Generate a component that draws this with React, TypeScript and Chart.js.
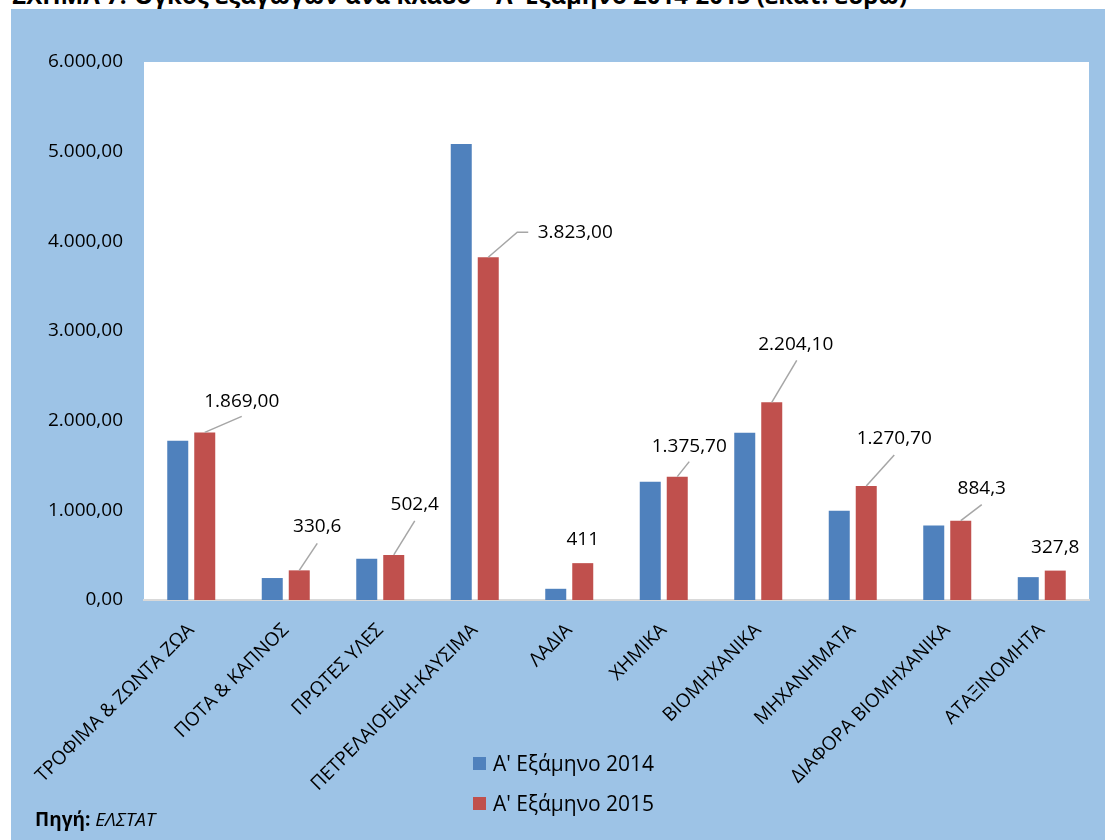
import React, { useEffect, useRef } from "react";
import { Chart, registerables } from "chart.js";

Chart.register(...registerables);

const CATEGORIES = [
  "ΤΡΟΦΙΜΑ & ΖΩΝΤΑ ΖΩΑ",
  "ΠΟΤΑ & ΚΑΠΝΟΣ",
  "ΠΡΩΤΕΣ ΥΛΕΣ",
  "ΠΕΤΡΕΛΑΙΟΕΙΔΗ-ΚΑΥΣΙΜΑ",
  "ΛΑΔΙΑ",
  "ΧΗΜΙΚΑ",
  "ΒΙΟΜΗΧΑΝΙΚΑ",
  "ΜΗΧΑΝΗΜΑΤΑ",
  "ΔΙΑΦΟΡΑ ΒΙΟΜΗΧΑΝΙΚΑ",
  "ΑΤΑΞΙΝΟΜΗΤΑ",
];
const SERIES_NAMES = ["Α' Εξάμηνο 2014", "Α' Εξάμηνο 2015"];
const H1_2014 = [1775, 245, 460, 5085, 125, 1320, 1865, 995, 830, 255];
const H1_2015 = [1869, 330.6, 502.4, 3823, 411, 1375.7, 2204.1, 1270.7, 884.3, 327.8];
const LABELS_2015 = ["1.869,00", "330,6", "502,4", "3.823,00", "411", "1.375,70", "2.204,10", "1.270,70", "884,3", "327,8"];
const Y_MIN = 0;
const Y_MAX = 6000;
const Y_STEP = 1000;

const TITLE = "ΣΧΗΜΑ 7: Όγκος εξαγωγών ανά κλάδο – Α' Εξάμηνο 2014-2015 (εκατ. ευρώ)";
const COLORS = ["#4F81BD", "#C0504D"];
const BG = "#9DC3E6";
const FONT = "'Open Sans', 'DejaVu Sans', sans-serif";

// label placement relative to the top-centre of each 2015 bar (layout only)
const LABEL_LAYOUT: { dx: number; dy: number; line: number[][] | null }[] = [
  { dx: 37, dy: -31, line: [[0, 0], [37, -16]] },
  { dx: 18, dy: -44, line: [[0, 0], [18, -27]] },
  { dx: 21, dy: -50, line: [[0, 0], [21, -34]] },
  { dx: 87, dy: -25, line: [[0, 0], [29, -25], [40, -25]] },
  { dx: 0, dy: -24, line: null },
  { dx: 12, dy: -30, line: [[0, 0], [12, -15]] },
  { dx: 24, dy: -58, line: [[0, 0], [25, -42]] },
  { dx: 28, dy: -47, line: [[0, 0], [28, -31]] },
  { dx: 21, dy: -32, line: [[0, 0], [21, -16]] },
  { dx: 0, dy: -23, line: null },
];

function formatEl(v: number): string {
  const fixed = v.toFixed(2);
  const [intPart, dec] = fixed.split(".");
  const withDots = intPart.replace(/\B(?=(\d{3})+(?!\d))/g, ".");
  return withDots + "," + dec;
}

const bgPlugin = {
  id: "bgPlugin",
  beforeDraw(chart: any) {
    const { ctx, chartArea } = chart;
    ctx.save();
    ctx.fillStyle = BG;
    ctx.fillRect(0, 0, chart.width, chart.height);
    ctx.fillStyle = "#FFFFFF";
    ctx.fillRect(chartArea.left, chartArea.top, chartArea.right - chartArea.left, chartArea.bottom - chartArea.top);
    ctx.restore();
  },
};

const labelPlugin = {
  id: "labelPlugin",
  afterDatasetsDraw(chart: any) {
    const { ctx } = chart;
    const meta = chart.getDatasetMeta(1);
    ctx.save();
    meta.data.forEach((bar: any, i: number) => {
      const lay = LABEL_LAYOUT[i];
      const x0 = bar.x;
      const y0 = bar.y;
      if (lay.line) {
        ctx.beginPath();
        ctx.strokeStyle = "#A6A6A6";
        ctx.lineWidth = 1.5;
        lay.line.forEach((p, k) => {
          if (k === 0) ctx.moveTo(x0 + p[0], y0 + p[1]);
          else ctx.lineTo(x0 + p[0], y0 + p[1]);
        });
        ctx.stroke();
      }
      ctx.fillStyle = "#000000";
      ctx.font = `19px ${FONT}`;
      ctx.textAlign = "center";
      ctx.textBaseline = "middle";
      ctx.fillText(LABELS_2015[i], x0 + lay.dx, y0 + lay.dy);
    });
    ctx.restore();
  },
};

export default function App() {
  const ref = useRef<HTMLCanvasElement | null>(null);

  useEffect(() => {
    if (!ref.current) return;
    const chart = new Chart(ref.current, {
      type: "bar",
      data: {
        labels: CATEGORIES,
        datasets: [
          {
            label: SERIES_NAMES[0],
            data: H1_2014,
            backgroundColor: COLORS[0],
            categoryPercentage: 0.5714,
            barPercentage: 0.7778,
          },
          {
            label: SERIES_NAMES[1],
            data: H1_2015,
            backgroundColor: COLORS[1],
            categoryPercentage: 0.5714,
            barPercentage: 0.7778,
          },
        ],
      },
      options: {
        responsive: false,
        animation: false,
        devicePixelRatio: 1,
        layout: { padding: { top: 53, right: 16, left: 0, bottom: 0 } },
        plugins: {
          legend: { display: false },
          tooltip: { enabled: false },
          title: { display: false },
        },
        scales: {
          x: {
            grid: { display: true, color: "transparent", drawTicks: false },
            border: { display: true, color: "#D9D9D9", width: 2 },
            ticks: {
              maxRotation: 45,
              minRotation: 45,
              autoSkip: false,
              padding: 19,
              color: "#000000",
              font: { family: FONT, size: 19 },
            },
            afterFit(scale: any) {
              scale.height = 240;
            },
          },
          y: {
            min: Y_MIN,
            max: Y_MAX,
            grid: { display: false, drawTicks: false },
            border: { display: false },
            ticks: {
              stepSize: Y_STEP,
              padding: 21,
              color: "#000000",
              font: { family: FONT, size: 19 },
              callback: (v: any) => formatEl(Number(v)),
            },
            afterFit(scale: any) {
              scale.width = 133;
            },
          },
        },
      },
      plugins: [bgPlugin, labelPlugin],
    });
    return () => chart.destroy();
  }, []);

  return (
    <div style={{ position: "absolute", left: 0, top: 0, width: 1105, height: 840, overflow: "hidden", background: "#FFFFFF", fontFamily: FONT }}>
      <div
        style={{
          position: "absolute",
          left: 12,
          top: -17,
          fontSize: 24,
          lineHeight: 1,
          fontWeight: 700,
          whiteSpace: "nowrap",
          color: "#000",
        }}
      >
        {TITLE}
      </div>
      <div style={{ position: "absolute", left: 11, top: 9, width: 1094, height: 831, background: BG }}>
        <canvas ref={ref} width={1094} height={831} style={{ display: "block", width: 1094, height: 831 }} />
      </div>
      {SERIES_NAMES.map((name, i) => (
        <div
          key={name}
          style={{
            position: "absolute",
            left: 473,
            top: 750 + i * 40,
            height: 26,
            display: "flex",
            alignItems: "center",
            fontSize: 21,
            color: "#000",
            whiteSpace: "nowrap",
          }}
        >
          <span style={{ display: "inline-block", width: 13, height: 13, background: COLORS[i], marginRight: 7 }} />
          <span>{name}</span>
        </div>
      ))}
      <div style={{ position: "absolute", left: 35, top: 806, fontSize: 19, color: "#000", whiteSpace: "nowrap" }}>
        <b>Πηγή:</b> <i>ΕΛΣΤΑΤ</i>
      </div>
    </div>
  );
}
